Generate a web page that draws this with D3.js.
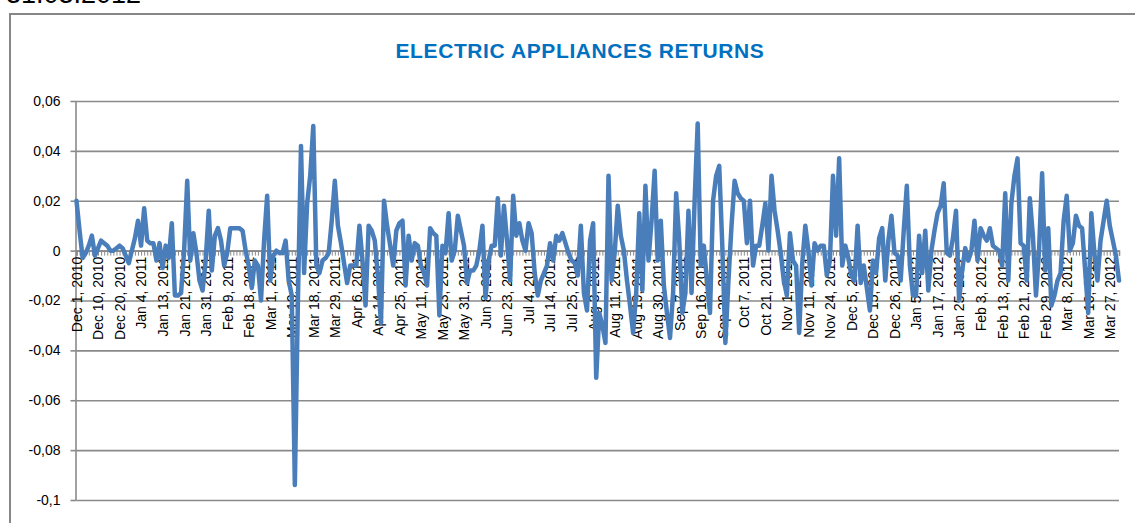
<!DOCTYPE html>
<html><head><meta charset="utf-8">
<script src="https://cdn.jsdelivr.net/npm/d3@7/dist/d3.min.js"></script>
<style>
body{margin:0;background:#fff;}
svg{display:block;}
</style>
</head><body>
<svg id="chart" width="1135" height="523"></svg>
<script>
const chartTitle = "ELECTRIC APPLIANCES RETURNS";
const headerText = "31.03.2012";

const dateLabels = [
  "Dec 1, 2010","Dec 10, 2010","Dec 20, 2010","Jan 4, 2011","Jan 13, 2011","Jan 21, 2011",
  "Jan 31, 2011","Feb 9, 2011","Feb 18, 2011","Mar 1, 2011","Mar 10, 2011","Mar 18, 2011",
  "Mar 29, 2011","Apr 6, 2011","Apr 14, 2011","Apr 25, 2011","May 11, 2011","May 23, 2011",
  "May 31, 2011","Jun 8, 2011","Jun 23, 2011","Jul 4, 2011","Jul 14, 2011","Jul 25, 2011",
  "Aug 3, 2011","Aug 11, 2011","Aug 19, 2011","Aug 30, 2011","Sep 7, 2011","Sep 16, 2011",
  "Sep 29, 2011","Oct 7, 2011","Oct 21, 2011","Nov 1, 2011","Nov 11, 2011","Nov 24, 2011",
  "Dec 5, 2011","Dec 15, 2011","Dec 26, 2011","Jan 5, 2012","Jan 17, 2012","Jan 25, 2012",
  "Feb 3, 2012","Feb 13, 2012","Feb 21, 2012","Feb 29, 2012","Mar 8, 2012","Mar 16, 2012",
  "Mar 27, 2012"
];
const labelEvery = 7;

const returns = [
  // 0-9
  0.020, 0.008,-0.003,-0.001, 0.002, 0.006,-0.002, 0.001, 0.004, 0.003,
  // 10-19
  0.002, 0.000, 0.000, 0.001, 0.002, 0.001,-0.002,-0.005, 0.000, 0.005,
  // 20-29
  0.012, 0.002, 0.017, 0.004, 0.003, 0.003,-0.004, 0.003,-0.007, 0.002,
  // 30-39
 -0.003, 0.011,-0.018,-0.018,-0.017, 0.000, 0.028,-0.004, 0.007,-0.001,
  // 40-49
 -0.012,-0.016,-0.004, 0.016,-0.008, 0.006, 0.009, 0.004,-0.006,-0.001,
  // 50-59
  0.009, 0.009, 0.009, 0.009, 0.008, 0.000,-0.006,-0.015,-0.004,-0.006,
  // 60-69
 -0.020, 0.004, 0.022,-0.012,-0.002, 0.000,-0.001,-0.001, 0.004,-0.012,
  // 70-79
 -0.018,-0.094,-0.020, 0.042,-0.009, 0.019, 0.030, 0.050,-0.006,-0.009,
  // 80-89
 -0.004,-0.003,-0.001, 0.012, 0.028, 0.010, 0.003,-0.005,-0.013,-0.006,
  // 90-99
 -0.006,-0.006, 0.010,-0.004,-0.022, 0.010, 0.008, 0.004,-0.010,-0.029,
  // 100-109
  0.020, 0.010, 0.002,-0.006, 0.008, 0.011, 0.012,-0.014, 0.006,-0.004,
  // 110-119
  0.003, 0.002,-0.006,-0.009,-0.014, 0.009, 0.007, 0.006,-0.026, 0.002,
  // 120-129
 -0.001, 0.015,-0.004, 0.000, 0.014, 0.008, 0.002,-0.013,-0.008,-0.008,
  // 130-139
 -0.006, 0.000, 0.010,-0.019,-0.004, 0.002, 0.002, 0.021,-0.002, 0.018,
  // 140-149
  0.004,-0.012, 0.022, 0.006, 0.011, 0.004, 0.000, 0.011, 0.007,-0.009,
  // 150-159
 -0.018,-0.012,-0.009,-0.006, 0.003,-0.004, 0.006, 0.004, 0.007, 0.003,
  // 160-169
 -0.001,-0.004,-0.005,-0.010, 0.010,-0.017,-0.024, 0.004, 0.011,-0.051,
  // 170-179
 -0.025,-0.030,-0.037, 0.030,-0.012,-0.001, 0.018, 0.006, 0.000,-0.012,
  // 180-189
 -0.022,-0.033,-0.017, 0.015,-0.016, 0.026,-0.004, 0.012, 0.032,-0.004,
  // 190-199
  0.012,-0.014,-0.025,-0.035,-0.017, 0.023, 0.004,-0.025,-0.017, 0.016,
  // 200-209
 -0.017, 0.020, 0.051,-0.006, 0.002,-0.012,-0.025, 0.020, 0.030, 0.034,
  // 210-219
  0.002,-0.037,-0.012, 0.010, 0.028, 0.023, 0.021, 0.020, 0.003, 0.020,
  // 220-229
 -0.006, 0.002, 0.002, 0.010, 0.019, 0.000, 0.030, 0.016, 0.008,-0.001,
  // 230-239
 -0.012,-0.018, 0.007,-0.004,-0.006,-0.033,-0.005, 0.010, 0.000,-0.014,
  // 240-249
  0.003, 0.000, 0.002, 0.002,-0.010,-0.004, 0.030, 0.006, 0.037,-0.006,
  // 250-259
  0.002,-0.003,-0.010,-0.012, 0.010,-0.013,-0.006,-0.015,-0.024,-0.004,
  // 260-269
 -0.009, 0.005, 0.009,-0.012, 0.004, 0.014,-0.001,-0.002,-0.012, 0.008,
  // 270-279
  0.026,-0.006,-0.018,-0.018, 0.006,-0.009, 0.008,-0.016, 0.000, 0.008,
  // 280-289
  0.015, 0.018, 0.027,-0.001,-0.002, 0.005, 0.016,-0.020,-0.008, 0.001,
  // 290-299
 -0.004, 0.000, 0.012,-0.004, 0.009, 0.006, 0.004, 0.009, 0.002, 0.001,
  // 300-309
  0.000,-0.006, 0.023,-0.012, 0.019, 0.030, 0.037, 0.003, 0.002,-0.012,
  // 310-319
  0.021, 0.006,-0.018, 0.000, 0.031,-0.008, 0.009,-0.022,-0.018,-0.012,
  // 320-329
 -0.009, 0.012, 0.022, 0.000, 0.003, 0.014, 0.010, 0.009,-0.008,-0.025,
  // 330-339
  0.015,-0.001,-0.012, 0.004, 0.012, 0.020, 0.010, 0.004,-0.002,-0.012
];

const yTickValues = [0.06, 0.04, 0.02, 0, -0.02, -0.04, -0.06, -0.08, -0.1];

const svg = d3.select("#chart");
const plot = {left: 76.5, right: 1119, top: 101, bottom: 500};

// outer chart frame
svg.append("rect")
  .attr("x", 10).attr("y", 14)
  .attr("width", 1140).attr("height", 530)
  .attr("fill", "#fff").attr("stroke", "#868686").attr("stroke-width", 2);

// header text (partly above the page edge, as in the reference)
svg.append("text")
  .attr("x", 6).attr("y", 3)
  .attr("font-family", "Liberation Sans, Arial, sans-serif")
  .attr("font-size", 27)
  .attr("fill", "#000")
  .text(headerText);

// title
svg.append("text")
  .attr("x", 580).attr("y", 58)
  .attr("text-anchor", "middle")
  .attr("font-family", "Liberation Sans, Arial, sans-serif")
  .attr("font-weight", "bold")
  .attr("font-size", 21)
  .attr("letter-spacing", "0.6px")
  .attr("fill", "#0070C0")
  .text(chartTitle);

const idx = d3.range(returns.length);
const x = d3.scalePoint().domain(idx).range([plot.left, plot.right]);
const y = d3.scaleLinear().domain([-0.1, 0.06]).range([plot.bottom, plot.top]);

const fmt = v => v === 0 ? "0" : String(+v.toFixed(2)).replace(".", ",");

// gridlines
const grid = svg.append("g")
  .attr("transform", `translate(${plot.left},0)`)
  .call(d3.axisLeft(y).tickValues(yTickValues).tickSize(-(plot.right - plot.left)).tickFormat(""));
grid.select(".domain").remove();
grid.selectAll("line").attr("stroke", "#8a8a8a").attr("stroke-width", 1.6);

// y axis
const yAxis = svg.append("g")
  .attr("transform", `translate(${plot.left},0)`)
  .call(d3.axisLeft(y).tickValues(yTickValues).tickSize(6).tickPadding(10).tickFormat(fmt));
yAxis.select(".domain").attr("stroke", "#8a8a8a").attr("stroke-width", 1.6)
  .attr("d", `M-0.5,${plot.top}V${plot.bottom}`);
yAxis.selectAll("line").attr("stroke", "#8a8a8a").attr("stroke-width", 1.6);
yAxis.selectAll("text")
  .attr("font-family", "Liberation Sans, Arial, sans-serif")
  .attr("font-size", 14).attr("fill", "#000");

// category axis at zero with a tick per point
const xTicks = svg.append("g")
  .attr("transform", `translate(0,${y(0)})`)
  .call(d3.axisBottom(x).tickValues(idx).tickSize(5).tickFormat(""));
xTicks.select(".domain").attr("stroke", "#8a8a8a").attr("stroke-width", 1.6);
xTicks.selectAll("line").attr("stroke", "#8a8a8a").attr("stroke-width", 1);

// category labels
const labelIdx = dateLabels.map((d, i) => i * labelEvery);
const xLabels = svg.append("g")
  .attr("transform", `translate(0,${y(0)})`)
  .call(d3.axisBottom(x).tickValues(labelIdx).tickSize(0)
    .tickFormat(d => dateLabels[d / labelEvery]));
xLabels.select(".domain").remove();
xLabels.selectAll("text")
  .attr("font-family", "Liberation Sans, Arial, sans-serif")
  .attr("font-size", 14).attr("fill", "#000")
  .attr("text-anchor", "end")
  .attr("transform", "rotate(-90)")
  .attr("x", -6).attr("y", 0).attr("dy", "0.35em");

// line
const line = d3.line().x((d, i) => x(i)).y(d => y(d));
svg.append("path")
  .datum(returns)
  .attr("d", line)
  .attr("fill", "none")
  .attr("stroke", "#4A7EBB")
  .attr("stroke-width", 4.5)
  .attr("stroke-linejoin", "round")
  .attr("stroke-linecap", "round");
</script>
</body></html>
